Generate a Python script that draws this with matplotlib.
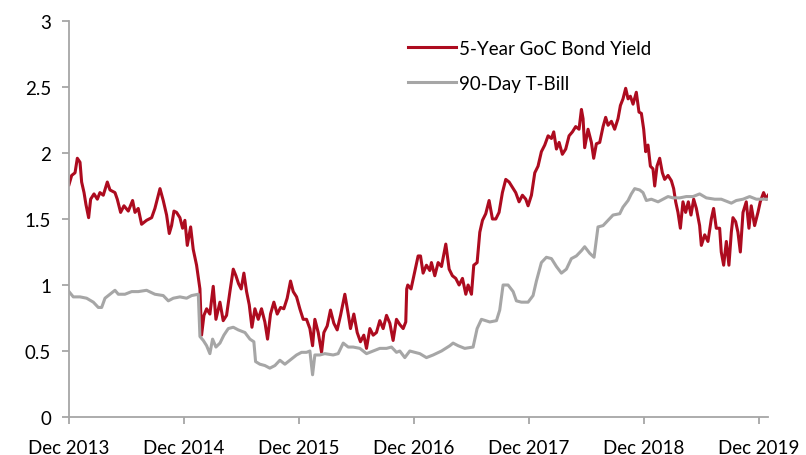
import pandas as pd
import matplotlib.pyplot as plt

# months after the first observation (early Dec 2013), values in percent
bond_months = [0.0, 0.28, 0.63, 0.87, 1.15, 1.32, 1.57, 1.77, 2.05, 2.26, 2.61, 2.96, 3.23, 3.58, 4.00,
               4.28, 4.80, 5.04, 5.39, 5.74, 6.19, 6.64, 6.89, 7.23, 7.58, 8.10, 8.63, 8.97, 9.22, 9.50,
               9.84, 10.19, 10.47, 10.71, 10.96, 11.23, 11.58, 11.86, 12.10, 12.35, 12.70, 12.97, 13.32,
               13.57, 13.67, 13.84, 14.09, 14.37, 14.71, 15.06, 15.34, 15.76, 16.10, 16.45, 16.80, 17.15,
               17.43, 17.70, 17.98, 18.26, 18.54, 18.82, 19.10, 19.41, 19.76, 20.10, 20.45, 20.73, 21.04,
               21.39, 21.74, 22.09, 22.43, 22.78, 23.13, 23.41, 23.76, 24.10, 24.45, 24.80, 25.15, 25.43,
               25.67, 26.02, 26.37, 26.61, 26.96, 27.30, 27.65, 28.00, 28.35, 28.80, 29.15, 29.39, 29.74,
               30.09, 30.43, 30.78, 31.06, 31.41, 31.76, 32.10, 32.45, 32.80, 33.15, 33.50, 33.84, 34.19,
               34.54, 34.89, 35.16, 35.26, 35.37, 35.71, 36.07, 36.45, 36.70, 36.97, 37.32, 37.67, 37.84,
               38.19, 38.54, 38.89, 39.34, 39.69, 40.03, 40.38, 40.73, 41.08, 41.43, 41.67, 42.02, 42.26,
               42.61, 42.89, 43.17, 43.51, 43.86, 44.21, 44.56, 44.90, 45.25, 45.60, 45.95, 46.30, 46.64,
               46.99, 47.34, 47.69, 47.93, 48.28, 48.63, 48.97, 49.32, 49.67, 50.02, 50.37, 50.61, 50.89,
               51.17, 51.51, 51.86, 52.21, 52.56, 52.90, 53.25, 53.50, 53.67, 53.84, 54.19, 54.54, 54.78,
               55.06, 55.41, 55.76, 56.03, 56.28, 56.63, 56.97, 57.32, 57.57, 57.84, 58.12, 58.37, 58.61,
               58.89, 59.23, 59.51, 59.76, 60.00, 60.21, 60.45, 60.70, 60.97, 61.15, 61.39, 61.67, 61.95,
               62.19, 62.54, 62.89, 63.13, 63.34, 63.58, 63.83, 64.10, 64.38, 64.66, 64.94, 65.22, 65.50,
               65.84, 66.02, 66.37, 66.71, 67.06, 67.30, 67.58, 67.93, 68.10, 68.35, 68.63, 68.90, 69.15,
               69.32, 69.60, 69.84, 70.09, 70.37, 70.71, 70.99, 71.23, 71.58, 71.93, 72.17, 72.52, 72.80,
               73.01]
bond_yield = [1.76, 1.83, 1.85, 1.96, 1.93, 1.78, 1.70, 1.61, 1.51, 1.65, 1.69, 1.65, 1.70, 1.68, 1.78,
              1.72, 1.70, 1.65, 1.55, 1.60, 1.56, 1.64, 1.55, 1.58, 1.46, 1.49, 1.51, 1.58, 1.65, 1.73,
              1.64, 1.53, 1.39, 1.45, 1.56, 1.55, 1.51, 1.43, 1.49, 1.30, 1.44, 1.27, 1.15,
              1.02, 0.97, 0.62, 0.77, 0.82, 0.78, 0.99, 0.74, 0.87, 0.73, 0.77, 0.95, 1.12,
              1.07, 1.01, 0.97, 1.09, 0.95, 0.85, 0.68, 0.82, 0.74, 0.82, 0.72, 0.59, 0.78,
              0.87, 0.78, 0.83, 0.82, 0.90, 1.03, 0.95, 0.91, 0.82, 0.74, 0.74, 0.67, 0.54,
              0.74, 0.64, 0.49, 0.64, 0.69, 0.81, 0.71, 0.66, 0.77, 0.93, 0.78, 0.67, 0.78,
              0.64, 0.57, 0.62, 0.52, 0.67, 0.62, 0.64, 0.73, 0.67, 0.77, 0.71, 0.58, 0.74,
              0.70, 0.67, 0.72, 0.97, 1.00, 0.97, 1.09, 1.22, 1.22, 1.09, 1.15, 1.11, 1.17,
              1.07, 1.17, 1.14, 1.31, 1.12, 1.07, 1.05, 1.00, 1.05, 0.93, 1.00, 0.93, 1.15,
              1.17, 1.40, 1.49, 1.54, 1.64, 1.50, 1.50, 1.55, 1.70, 1.80, 1.78, 1.74, 1.70,
              1.63, 1.68, 1.65, 1.60, 1.68, 1.85, 1.90, 2.01, 2.06, 2.13, 2.11, 2.16, 2.03,
              2.08, 1.99, 2.03, 2.13, 2.16, 2.20, 2.18, 2.33, 2.26, 2.04, 2.18, 2.08, 1.96,
              2.07, 2.08, 2.20, 2.27, 2.21, 2.24, 2.18, 2.26, 2.36, 2.41, 2.49, 2.41, 2.43,
              2.37, 2.46, 2.31, 2.30, 2.18, 2.01, 2.06, 1.90, 1.88, 1.75, 1.90, 1.96, 1.85,
              1.80, 1.83, 1.79, 1.73, 1.63, 1.55, 1.43, 1.63, 1.55, 1.63, 1.53, 1.65, 1.58,
              1.45, 1.30, 1.38, 1.33, 1.50, 1.58, 1.43, 1.43, 1.25, 1.15, 1.33, 1.15, 1.40,
              1.51, 1.48, 1.40, 1.25, 1.55, 1.63, 1.43, 1.60, 1.45, 1.55, 1.63, 1.70, 1.65,
              1.68]

tbill_months = [0.00, 0.45, 1.15, 1.84, 2.54, 3.06, 3.41, 3.76, 4.28, 4.80, 5.15, 5.84, 6.54, 7.23, 8.10,
                8.97, 9.84, 10.37, 10.89, 11.58, 12.28, 12.80, 13.50, 13.67, 14.02, 14.37, 14.71, 14.99,
                15.34, 15.76, 16.17, 16.63, 17.15, 17.67, 18.37, 18.89, 19.30, 19.48, 19.93, 20.45, 20.97,
                21.50, 22.02, 22.54, 23.06, 23.76, 24.28, 24.80, 25.15, 25.43, 25.67, 26.19, 26.71, 27.58,
                28.10, 28.63, 29.15, 29.67, 30.37, 31.06, 31.76, 32.45, 33.15, 33.67, 34.19, 34.54, 35.06,
                35.58, 36.10, 36.63, 37.32, 38.02, 38.89, 39.76, 40.10, 40.63, 41.32, 42.19, 42.61, 43.06,
                43.51, 43.93, 44.63, 44.97, 45.32, 45.84, 46.37, 46.71, 47.23, 47.93, 48.45, 48.80, 49.32,
                49.84, 50.37, 50.89, 51.41, 51.93, 52.45, 52.97, 53.50, 53.84, 54.37, 54.82, 55.23, 55.76,
                56.28, 56.80, 57.50, 57.84, 58.37, 58.71, 59.06, 59.58, 59.93, 60.28, 60.80, 61.50, 62.02,
                62.54, 63.06, 63.76, 64.45, 65.15, 65.84, 66.54, 67.41, 68.10, 69.15, 69.67, 70.37, 71.06,
                71.76, 72.45, 73.01]
tbill_yield = [0.95, 0.91, 0.91, 0.90, 0.87, 0.83, 0.83, 0.90, 0.93, 0.96, 0.93, 0.93, 0.95, 0.95, 0.96,
               0.93, 0.92, 0.88, 0.90, 0.91, 0.90, 0.92, 0.93, 0.61, 0.58, 0.54, 0.48, 0.59,
               0.53, 0.56, 0.62, 0.67, 0.68, 0.66, 0.64, 0.59, 0.57, 0.42, 0.40, 0.39, 0.37,
               0.39, 0.43, 0.40, 0.43, 0.47, 0.49, 0.49, 0.50, 0.32, 0.47, 0.47, 0.48, 0.47,
               0.48, 0.56, 0.53, 0.53, 0.52, 0.48, 0.50, 0.52, 0.52, 0.53, 0.49, 0.50, 0.45,
               0.50, 0.49, 0.48, 0.45, 0.47, 0.50, 0.54, 0.56, 0.54, 0.52, 0.53, 0.67, 0.74,
               0.73, 0.72, 0.73, 0.81, 1.00, 1.00, 0.95, 0.88, 0.87, 0.87, 0.92, 1.03, 1.17,
               1.21, 1.20, 1.14, 1.09, 1.12, 1.20, 1.22, 1.26, 1.29, 1.24, 1.21, 1.44, 1.45,
               1.49, 1.53, 1.54, 1.59, 1.64, 1.69, 1.73, 1.72, 1.70, 1.64, 1.65, 1.63, 1.65,
               1.67, 1.66, 1.66, 1.67, 1.67, 1.69, 1.66, 1.65, 1.65, 1.62, 1.64, 1.65, 1.67,
               1.65, 1.65, 1.65]

tick_years = [2013, 2014, 2015, 2016, 2017, 2018, 2019]

start = pd.Timestamp('2013-12-02')


def to_dates(months):
    return [start + pd.Timedelta(days=m * 30.44) for m in months]


plt.rcParams['font.family'] = ['Lato', 'DejaVu Sans']

fig = plt.figure(figsize=(8.06, 4.56), dpi=100)
ax = fig.add_axes([0.0856, 0.0833, 0.8675, 0.8685])

ax.plot(to_dates(bond_months), bond_yield, color='#ad0b1f', lw=2.2, label='5-Year GoC Bond Yield')
ax.plot(to_dates(tbill_months), tbill_yield, color='#a6a6a6', lw=2.2, label='90-Day T-Bill')

ax.set_ylim(0, 3)
ax.set_yticks([0, 0.5, 1, 1.5, 2, 2.5, 3])
ax.set_yticklabels(['0', '0.5', '1', '1.5', '2', '2.5', '3'])
ax.set_xlim(start, start + pd.Timedelta(days=73.0 * 30.44))
ticks = [start + pd.Timedelta(days=(y - 2013) * 365.25) for y in tick_years]
ax.set_xticks(ticks)
ax.set_xticklabels(['Dec %d' % y for y in tick_years])

for side in ['top', 'right']:
    ax.spines[side].set_visible(False)
for side in ['left', 'bottom']:
    ax.spines[side].set_color('#a6a6a6')
    ax.spines[side].set_linewidth(1.3)
ax.tick_params(axis='both', colors='#a6a6a6', labelcolor='black', labelsize=13.5, length=5, width=1.3)
ax.tick_params(axis='x', pad=11)
ax.tick_params(axis='y', pad=8)

ax.legend(loc='upper left', bbox_to_anchor=(0.46, 0.995), frameon=False, fontsize=13.5,
          handlelength=2.6, handletextpad=0.15, labelspacing=0.95)

fig.savefig('out.png', dpi=100)
